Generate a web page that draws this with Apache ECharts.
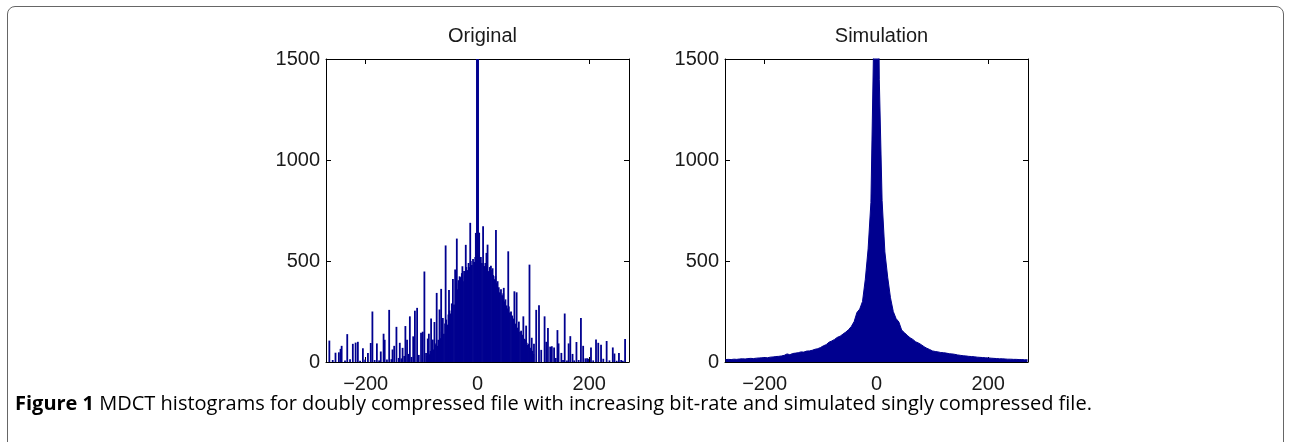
<!DOCTYPE html>
<html>
<head>
<meta charset="utf-8">
<script src="https://cdn.jsdelivr.net/npm/echarts@6/dist/echarts.min.js"></script>
<style>
html, body { margin: 0; padding: 0; background: #fff; }
#frame { position: absolute; left: 7px; top: 6px; width: 1277px; height: 470px; border: 1px solid #666; border-radius: 8px 8px 0 0; box-sizing: border-box; }
#chart { position: absolute; left: 0; top: 0; width: 1291px; height: 442px; }
#caption { position: absolute; left: 15px; top: 389px; font-family: "Open Sans"; font-size: 20px; color: #000; white-space: nowrap; }
</style>
</head>
<body>
<div id="frame"></div>
<div id="chart"></div>
<div id="caption"><b>Figure 1</b> MDCT histograms for doubly compressed file with increasing bit-rate and simulated singly compressed file.</div>
<script>
// panel titles and ticks
const titles = ['Original', 'Simulation']
const xTicks = [-200, 0, 200]

// Original: dense body of the histogram, x = -90..100 step 2
const origCoreStart = -90
const origCoreStep = 2
const origCore = [
  30, 45, 38, 55, 48, 70, 62, 85, 92, 80, 110, 125, 118, 150, 165, 140, 190, 210, 185, 235,
  255, 240, 290, 310, 285, 350, 390, 360, 405, 380, 420, 440, 400, 450, 430, 470, 455, 490, 470, 500,
  480, 510, 495, 520, 540,
  560, 530, 505, 520, 490, 500, 475, 490, 465, 480, 450, 470, 440, 455, 430, 410, 425, 390, 400, 370,
  345, 360, 330, 340, 300, 310, 280, 265, 275, 245, 250, 230, 215, 225, 190, 200, 170, 165, 150, 155,
  135, 140, 115, 110, 95, 85, 90, 70, 65, 55, 40
]

// Original: isolated spikes [x, count]
const origSpikes = [
  [-265, 106], [-259, 10], [-254, 46], [-248, 48], [-245, 65], [-243, 80], [-237, 8], [-233, 138],
  [-228, 14], [-223, 90], [-218, 96], [-214, 100], [-210, 6], [-205, 68], [-201, 12], [-196, 44],
  [-191, 94], [-188, 250], [-184, 10], [-180, 92], [-176, 8], [-173, 52], [-168, 140], [-166, 110],
  [-162, 12], [-158, 258], [-154, 14], [-152, 62], [-149, 80], [-145, 174], [-141, 20], [-139, 95],
  [-136, 18], [-134, 70], [-131, 30], [-129, 178], [-126, 110], [-123, 40], [-121, 226], [-118, 25],
  [-115, 127], [-112, 254], [-108, 268], [-105, 35], [-101, 145], [-98, 150], [-95, 448], [-92, 45],
  [-89, 116], [-87, 140], [-83, 215], [-80, 111], [-77, 198], [-73, 342], [-68, 260], [-65, 362],
  [-62, 218], [-57, 577], [-51, 357], [-44, 411], [-40, 458], [-37, 611], [-32, 424], [-27, 474],
  [-21, 580], [-13, 689], [-3, 639], [-1, 1700], [0, 2600], [1, 1650], [3, 640], [10, 672],
  [16, 540], [18, 581], [24, 477], [27, 464], [33, 653], [47, 367], [55, 548], [66, 350],
  [70, 345], [74, 200], [82, 226], [87, 180], [93, 482], [97, 120], [101, 90], [105, 258],
  [110, 281], [114, 60], [120, 226], [123, 100], [126, 168], [130, 76], [133, 78], [137, 72],
  [140, 20], [143, 158], [145, 92], [150, 45], [153, 10], [156, 240], [160, 8], [163, 92],
  [166, 128], [170, 40], [173, 8], [177, 99], [181, 10], [185, 218], [189, 80], [193, 18],
  [196, 18], [198, 16], [203, 72], [207, 8], [212, 112], [216, 95], [221, 86], [225, 16],
  [231, 104], [236, 8], [242, 72], [245, 42], [249, 6], [253, 44], [257, 10], [260, 6], [264, 114]
]

// Simulation: x = -270..270 step 5
const simStart = -270
const simStep = 5
const simValues = [
  12, 13, 12, 14, 13, 15, 16, 15, 17, 18,
  17, 19, 20, 21, 22, 21, 24, 25, 27, 28,
  30, 33, 40, 36, 42, 44, 46, 50, 49, 54,
  55, 58, 63, 66, 72, 80, 86, 98, 104, 112,
  122, 128, 138, 148, 160, 176, 200, 245, 262, 300,
  410, 560, 790, 1600, 3000, 1400, 800, 545, 420, 318,
  250, 215, 198, 158, 145, 132, 120, 112, 100, 94,
  86, 76, 68, 62, 55, 52, 50, 47, 46, 44,
  41, 40, 38, 35, 33, 31, 30, 28, 27, 26,
  24, 23, 22, 21, 20, 19, 18, 17, 16, 16,
  15, 14, 14, 13, 13, 12, 12, 11, 11
]

const barColor = '#00008f'
const font = 'Liberation Sans'

function origData() {
  const m = new Map()
  origCore.forEach((v, i) => m.set(origCoreStart + i * origCoreStep, v))
  origSpikes.forEach(([x, v]) => m.set(x, Math.max(v, m.get(x) || 0)))
  return [...m.entries()].sort((a, b) => a[0] - b[0])
}

function simData() {
  return simValues.map((v, i) => [simStart + i * simStep, v])
}

const grids = [
  { left: 326, top: 59, width: 303, height: 303 },
  { left: 725, top: 59, width: 303, height: 303 }
]

function xAxes(gi) {
  const base = {
    type: 'value', gridIndex: gi, min: -271, max: 271,
    splitLine: { show: false },
    axisLine: { onZero: false, lineStyle: { color: '#000', width: 1 } }
  }
  return [
    {
      ...base, position: 'bottom',
      axisTick: { inside: true, length: 5, customValues: xTicks, lineStyle: { color: '#000' } },
      axisLabel: {
        customValues: xTicks, color: '#1a1a1a', fontSize: 20, fontFamily: font, margin: 12,
        formatter: v => v < 0 ? '\u2212' + (-v) : String(v)
      }
    },
    {
      ...base, position: 'top',
      axisTick: { inside: true, length: 5, customValues: xTicks, lineStyle: { color: '#000' } },
      axisLabel: { show: false }
    }
  ]
}

function yAxes(gi) {
  const base = {
    type: 'value', gridIndex: gi, min: 0, max: 1500, interval: 500,
    splitLine: { show: false },
    axisLine: { show: true, onZero: false, lineStyle: { color: '#000', width: 1 } },
    axisTick: { show: true, inside: true, length: 5, lineStyle: { color: '#000' } }
  }
  return [
    { ...base, position: 'left', axisLabel: { color: '#1a1a1a', fontSize: 20, fontFamily: font, margin: 6, formatter: v => String(v) } },
    { ...base, position: 'right', axisLabel: { show: false } }
  ]
}

const chart = echarts.init(document.getElementById('chart'))
chart.setOption({
  animation: false,
  title: titles.map((t, i) => ({
    text: t,
    left: grids[i].left + grids[i].width / 2,
    top: 21,
    textAlign: 'center',
    textStyle: { fontFamily: font, fontSize: 20, fontWeight: 'normal', color: '#1a1a1a' }
  })),
  grid: grids,
  xAxis: [...xAxes(0), ...xAxes(1)],
  yAxis: [...yAxes(0), ...yAxes(1)],
  series: [
    {
      name: 'Original', type: 'bar', xAxisIndex: 0, yAxisIndex: 0,
      barWidth: 1.8, clip: true,
      itemStyle: { color: barColor },
      data: origData()
    },
    {
      name: 'Simulation', type: 'line', xAxisIndex: 2, yAxisIndex: 2,
      symbol: 'none', clip: true,
      lineStyle: { color: barColor, width: 1 },
      areaStyle: { color: barColor, opacity: 1 },
      data: simData()
    }
  ]
})
</script>
</body>
</html>
